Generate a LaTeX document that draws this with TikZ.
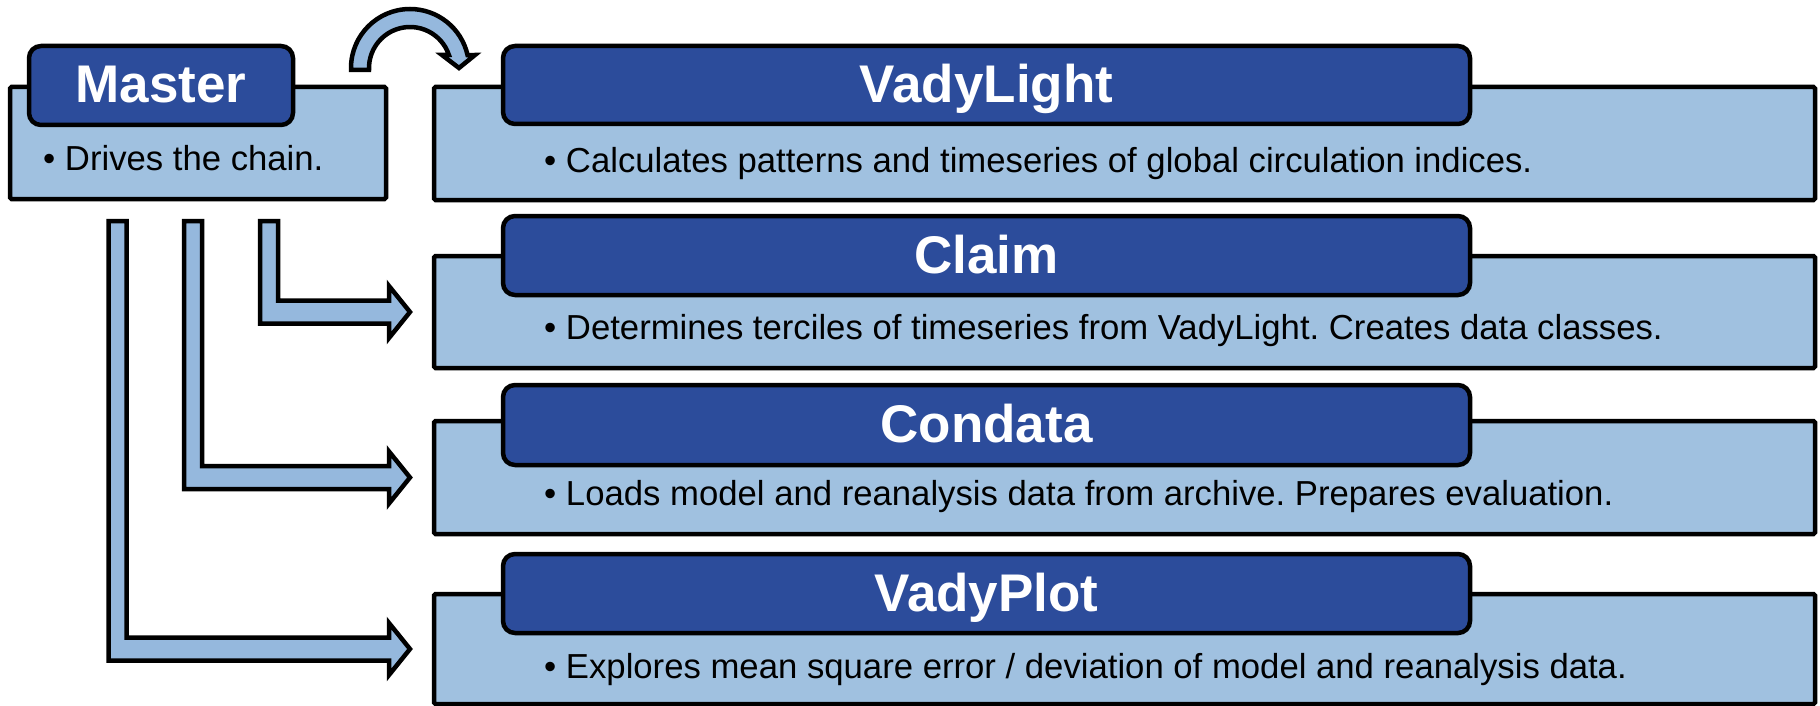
\documentclass[tikz,border=0pt]{standalone}
\usepackage{fontspec}
\setmainfont{Liberation Sans}
\usetikzlibrary{calc}
\frenchspacing

\definecolor{panelfill}{RGB}{160,193,224}
\definecolor{arrowfill}{RGB}{149,184,221}
\definecolor{headfill}{RGB}{44,76,155}

\tikzset{
  panel/.style={draw=black, line width=4.5pt, fill=panelfill, rounded corners=1.5pt,
                inner sep=0pt, outer sep=0pt},
  header/.style={draw=black, line width=4.5pt, fill=headfill, rounded corners=12pt,
                 inner sep=0pt, outer sep=0pt},
  headtext/.style={text=white, font=\fontsize{53}{60}\selectfont\bfseries,
                   anchor=base, inner sep=0pt},
  bodytext/.style={text=black, font=\fontsize{34.7}{40}\selectfont,
                   anchor=base west, inner sep=0pt},
  feed/.style={draw=black, line width=4.5pt, fill=arrowfill, line join=miter},
}

% L-shaped block arrow from below the master panel to the west side of a module panel
% #1 = x of the vertical shaft, #2 = target panel
\newcommand\feedarrow[2]{%
  \draw[feed] let \p1 = (#2.west), \p2 = (masterbody.south) in
    (#1-9, \y2-22) -- (#1+9, \y2-22) -- (#1+9, \y1+11.5) -- (\x1-45, \y1+11.5)
    -- (\x1-45, \y1+26) -- (\x1-24, \y1) -- (\x1-45, \y1-26) -- (\x1-45, \y1-11.5)
    -- (#1-9, \y1-11.5) -- cycle;}

\begin{document}
\begin{tikzpicture}[x=1pt, y=1pt]
  \useasboundingbox (0,0) rectangle (1820,-706);

  % Master
  \node[panel, minimum width=376pt, minimum height=112pt] (masterbody) at (198,-143) {};
  \node[header, minimum width=264pt, minimum height=79pt] (masterhead) at (161,-85.5) {};
  \node[headtext] (mastertitle) at ($(masterhead.center)+(0,-17.5)$) {Master};
  \node[bodytext] (mastertext) at (43,-170) {• Drives the chain.};

  % VadyLight
  \node[panel, minimum width=1381pt, minimum height=113pt] (lightbody) at (1124.5,-143.5) {};
  \node[header, minimum width=967pt, minimum height=78pt] (lighthead) at (986.5,-85) {};
  \node[headtext] (lighttitle) at ($(lighthead.center)+(0,-17.5)$) {VadyLight};
  \node[bodytext] (lighttext) at (544,-172) {• Calculates patterns and timeseries of global circulation indices.};

  % Claim
  \node[panel, minimum width=1381pt, minimum height=112pt] (claimbody) at (1124.5,-312) {};
  \node[header, minimum width=967pt, minimum height=79pt] (claimhead) at (986.5,-255.5) {};
  \node[headtext] (claimtitle) at ($(claimhead.center)+(0,-17.5)$) {Claim};
  \node[bodytext] (claimtext) at (544,-339) {• Determines terciles of timeseries from VadyLight. Creates data classes.};

  % Condata
  \node[panel, minimum width=1381pt, minimum height=113pt] (condatabody) at (1124.5,-477.5) {};
  \node[header, minimum width=967pt, minimum height=80pt] (condatahead) at (986.5,-425) {};
  \node[headtext] (condatatitle) at ($(condatahead.center)+(0,-17.5)$) {Condata};
  \node[bodytext] (condatatext) at (544,-505) {• Loads model and reanalysis data from archive. Prepares evaluation.};

  % VadyPlot
  \node[panel, minimum width=1381pt, minimum height=110pt] (plotbody) at (1124.5,-649) {};
  \node[header, minimum width=967pt, minimum height=79pt] (plothead) at (986.5,-593.5) {};
  \node[headtext] (plottitle) at ($(plothead.center)+(0,-17.5)$) {VadyPlot};
  \node[bodytext] (plottext) at (544,-678) {• Explores mean square error / deviation of model and reanalysis data.};

  % curved arrow: Master hands over to VadyLight
  \draw[feed] (351,-70) -- (351,-68) arc[start angle=180, end angle=12.7, radius=59]
    -- (475,-55) -- (459,-68) -- (442,-55) -- (448.9,-55)
    arc[start angle=18.5, end angle=180, radius=41] -- (369,-70) -- cycle;

  % Master drives the later modules
  \feedarrow{117.5}{plotbody}
  \feedarrow{193}{condatabody}
  \feedarrow{269}{claimbody}
\end{tikzpicture}
\end{document}
